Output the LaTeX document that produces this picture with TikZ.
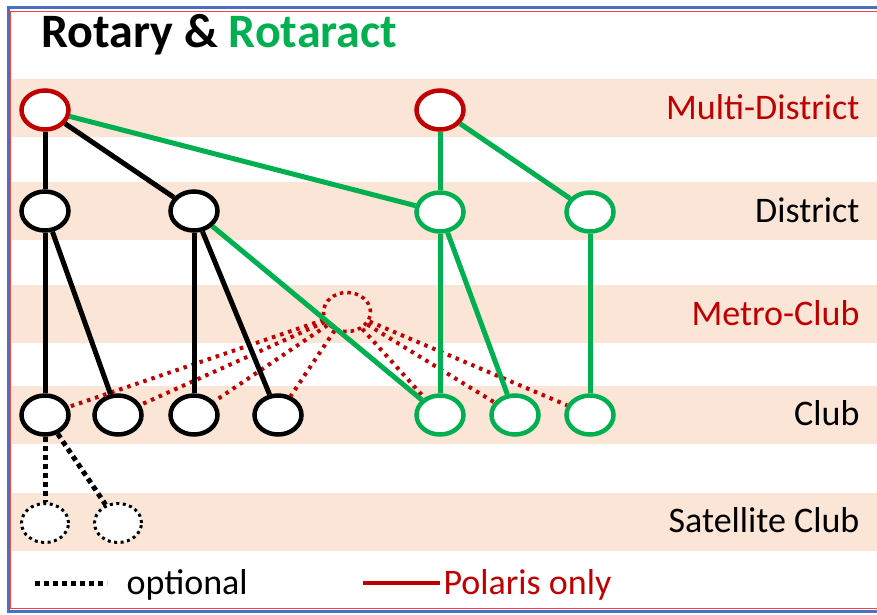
\documentclass[tikz,border=0pt]{standalone}
\usepackage{fontspec}
\setmainfont{Carlito}
\usepackage{xcolor}
\usepackage{tikz}
\usetikzlibrary{shapes,arrows,positioning,calc}
\definecolor{rotred}{HTML}{C00000}
\definecolor{rotgreen}{HTML}{00B050}
\definecolor{bandfill}{HTML}{FBE5D6}
\definecolor{frameblue}{HTML}{4472C4}

\begin{document}
\begin{tikzpicture}[x=1pt, y=-1pt,
        club/.style={draw, ellipse, line width=4.5pt, minimum width=47pt, minimum height=39pt, inner sep=0pt, fill=white},
        polaris/.style={club, draw=rotred},
        rotaract/.style={club, draw=rotgreen},
        maybe/.style={club, line width=3pt, dash pattern=on 3pt off 3.5pt, minimum width=47pt, minimum height=39pt},
        metro/.style={club, draw=rotred, line width=3.5pt, dash pattern=on 3.5pt off 4pt, fill=none},
        tie/.style={line width=5pt},
        greentie/.style={tie, draw=rotgreen},
        polarisdots/.style={line width=4pt, draw=rotred, dash pattern=on 3.5pt off 5pt},
        optdots/.style={line width=5pt, dash pattern=on 5pt off 4pt},
        level/.style={anchor=base east, font=\fontsize{36}{40}\selectfont}]
    \useasboundingbox (0,0) rectangle (877,614);
    \fill[bandfill] (12,79) rectangle (877,137);
    \fill[bandfill] (12,182) rectangle (877,240);
    \fill[bandfill] (12,285) rectangle (877,343);
    \fill[bandfill] (12,386) rectangle (877,444);
    \fill[bandfill] (12,493) rectangle (877,551);
    \draw[frameblue, line width=3pt] (877,7) -- (8,7) -- (8,611) -- (877,611);
    \draw[red!75, line width=1pt] (877,11.5) -- (10.5,11.5) -- (10.5,608) -- (877,608);

    \node[anchor=base west, font=\fontsize{48}{50}\selectfont\bfseries] (title) at (38,47) {Rotary \& \textcolor{rotgreen}{Rotaract}};

    \node[polaris] (md1) at (45,110) {};
    \node[polaris] (md2) at (440,110) {};
    \node[club] (d1) at (45,211) {};
    \node[club] (d2) at (194,211) {};
    \node[rotaract] (gd1) at (440,212) {};
    \node[rotaract] (gd2) at (590,212) {};
    \node[metro] (mc) at (347,312) {};
    \node[club] (c1) at (45,415) {};
    \node[club] (c2) at (118,415) {};
    \node[club] (c3) at (194,415) {};
    \node[club] (c4) at (278,415) {};
    \node[rotaract] (gc1) at (440,415) {};
    \node[rotaract] (gc2) at (515,415) {};
    \node[rotaract] (gc3) at (590,415) {};
    \node[maybe] (s1) at (45,523) {};
    \node[maybe] (s2) at (118,523) {};

    \foreach \c in {c1,c2,c3,c4,gc1,gc2,gc3}
        \draw[polarisdots] (mc) -- (\c);
    \draw[tie] (md1) -- (d1);
    \draw[tie] (md1) -- (d2);
    \draw[tie] (d1) -- (c1);
    \draw[tie] (d1) -- (c2);
    \draw[tie] (d2) -- (c3);
    \draw[tie] (d2) -- (c4);
    \draw[greentie] (md1) -- (gd1);
    \draw[greentie] (md2) -- (gd1);
    \draw[greentie] (md2) -- (gd2);
    \draw[greentie] (gd1) -- (gc1);
    \draw[greentie] (gd1) -- (gc2);
    \draw[greentie] (gd2) -- (gc3);
    \draw[greentie] (d2) -- (gc1);
    \draw[optdots] (c1) -- (s1);
    \draw[optdots] (c1) -- (s2);

    \node[level, text=rotred] (lmd) at (863,119) {Multi-District};
    \node[level] (ld) at (863,222) {District};
    \node[level, text=rotred] (lmc) at (863,325) {Metro-Club};
    \node[level] (lc) at (863,425) {Club};
    \node[level] (ls) at (863,532) {Satellite Club};

    \coordinate (optstart) at (35,583);
    \coordinate (optend) at (107,583);
    \draw[optdots] (optstart) -- (optend);
    \node[anchor=base west, font=\fontsize{36}{40}\selectfont] (opt) at (123,594) {optional};
    \coordinate (polstart) at (363,583);
    \node[anchor=base west, font=\fontsize{36}{40}\selectfont, text=rotred] (pol) at (440,594) {Polaris only};
    \draw[rotred, line width=3.5pt] (polstart) -- (pol.west |- polstart);
\end{tikzpicture}
\end{document}
